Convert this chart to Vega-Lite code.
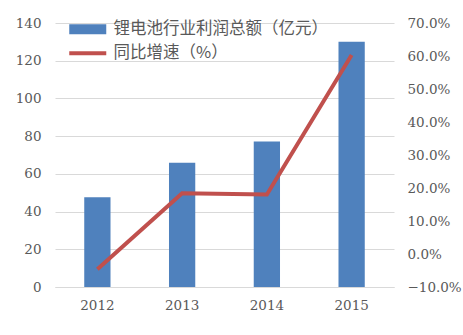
{
  "$schema": "https://vega.github.io/schema/vega-lite/v6.json",
  "width": 339,
  "height": 264,
  "autosize": {"type": "none"},
  "padding": {"left": 55, "top": 23, "right": 69, "bottom": 48},
  "background": "white",
  "config": {
    "view": {"stroke": null},
    "axis": {"labelFont": "DejaVu Serif", "labelFontSize": 13.5, "labelColor": "#595959", "ticks": false, "domain": false, "title": null},
    "legend": {"labelFont": "Noto Sans CJK SC", "labelFontSize": 16.5, "labelColor": "#595959", "padding": 0, "title": null, "labelLimit": 0}
  },
  "data": {
    "values": [
      {"year": "2012", "profit": 47.6, "growth": -0.046},
      {"year": "2013", "profit": 65.9, "growth": 0.184},
      {"year": "2014", "profit": 77.1, "growth": 0.180},
      {"year": "2015", "profit": 130.1, "growth": 0.603}
    ]
  },
  "encoding": {
    "x": {
      "field": "year", "type": "ordinal",
      "scale": {"paddingInner": 0.69, "paddingOuter": 0.345},
      "axis": {"labelAngle": 0, "labelPadding": 11, "domain": true, "domainColor": "#D9D9D9", "domainWidth": 1}
    }
  },
  "layer": [
    {
      "mark": {"type": "bar"},
      "encoding": {
        "y": {
          "field": "profit", "type": "quantitative",
          "scale": {"domain": [0, 140]},
          "axis": {"values": [0, 20, 40, 60, 80, 100, 120, 140], "grid": true, "gridColor": "#D9D9D9", "labelPadding": 14}
        },
        "fill": {
          "datum": "锂电池行业利润总额（亿元）",
          "scale": {"range": ["#4F81BD"]},
          "legend": {"orient": "none", "legendX": 24.5, "legendY": -2, "symbolType": "M-3.7,-1H3.7V1H-3.7Z", "symbolSize": 100, "symbolOpacity": 1, "labelOffset": 17.5}
        }
      }
    },
    {
      "mark": {"type": "line", "strokeWidth": 4},
      "encoding": {
        "y": {
          "field": "growth", "type": "quantitative",
          "scale": {"domain": [-0.1, 0.7]},
          "axis": {"orient": "right", "format": ".1%", "values": [-0.1, 0, 0.1, 0.2, 0.3, 0.4, 0.5, 0.6, 0.7], "grid": false, "labelAlign": "left", "labelPadding": 13}
        },
        "stroke": {
          "datum": "同比增速（%）",
          "scale": {"range": ["#C0504D"]},
          "legend": {"orient": "none", "legendX": 24.5, "legendY": 22, "symbolType": "M-3.7,0H3.7", "symbolSize": 100, "symbolStrokeWidth": 4, "labelOffset": 17.5}
        }
      }
    }
  ],
  "resolve": {"scale": {"y": "independent", "fill": "independent", "stroke": "independent"}}
}
